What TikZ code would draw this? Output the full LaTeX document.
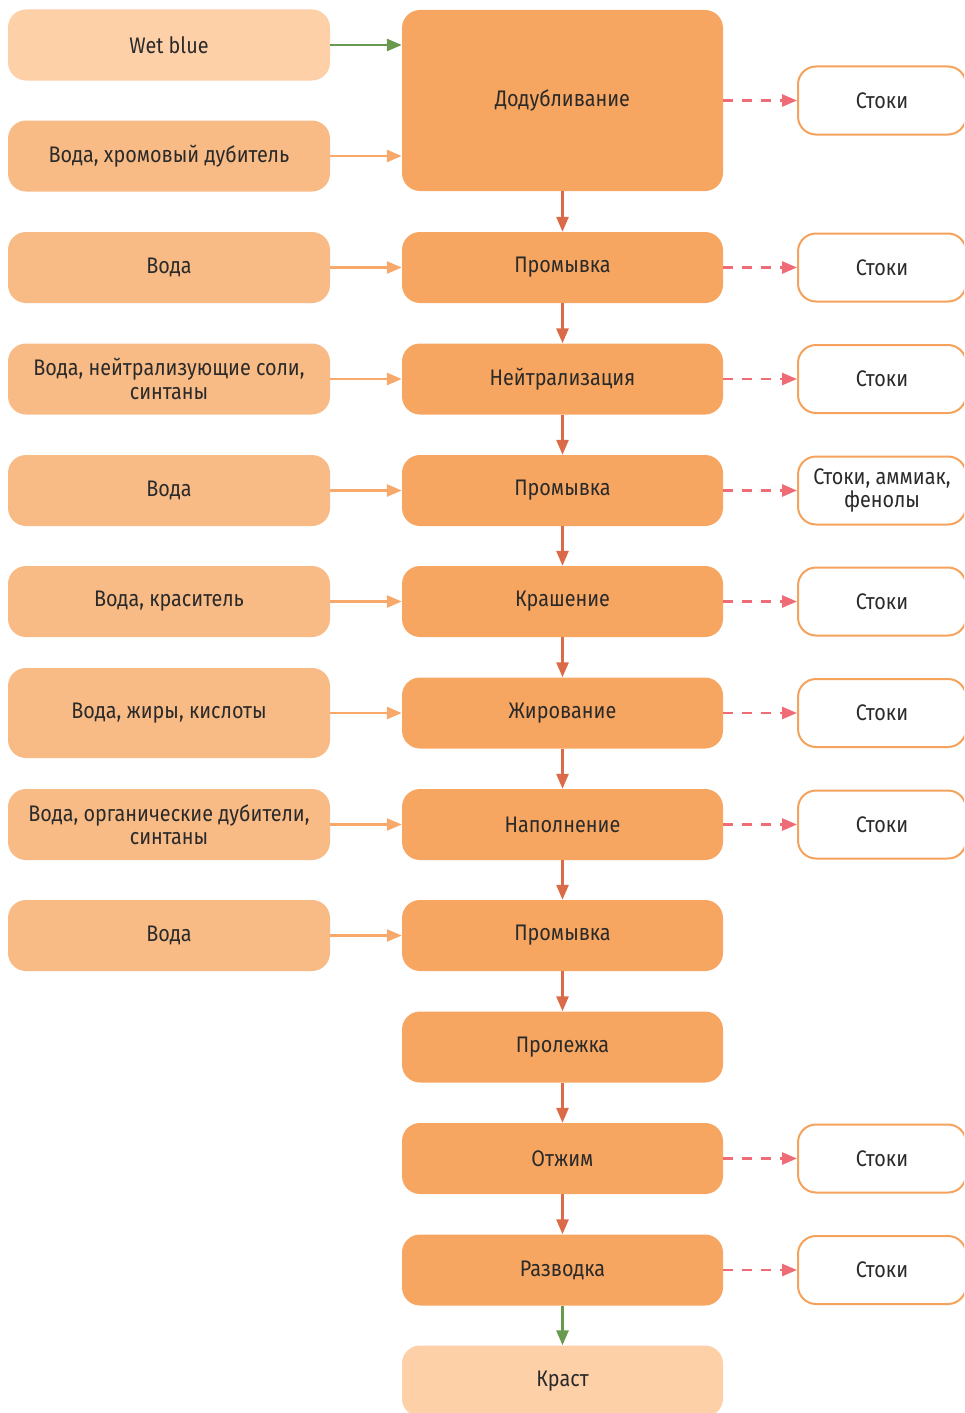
\documentclass[tikz,border=0pt]{standalone}
\usepackage{fontspec}
\setmainfont{Fira Sans}[FakeStretch=0.88]
\usetikzlibrary{arrows.meta}
\definecolor{mainfill}{HTML}{F6A661}
\definecolor{inputfill}{HTML}{F9BB86}
\definecolor{endfill}{HTML}{FDD0A8}
\definecolor{wasteedge}{HTML}{F5A25C}
\definecolor{flowline}{HTML}{DB6A48}
\definecolor{inputline}{HTML}{F6A96B}
\definecolor{wasteline}{HTML}{EF6B76}
\definecolor{greenline}{HTML}{67994F}
\definecolor{txt}{HTML}{2A2A2A}
\tikzset{
  x=1pt, y=-1pt,
  box/.style={rounded corners=18pt, minimum height=71pt, align=center, inner sep=2pt,
    text=txt, font=\fontsize{22.5}{23.5}\selectfont},
  mainbox/.style={box, fill=mainfill, minimum width=321pt},
  inbox/.style={box, fill=inputfill, minimum width=322pt},
  endbox/.style={box, fill=endfill},
  wastebox/.style={box, draw=wasteedge, line width=2pt, fill=white, minimum width=168pt, minimum height=68pt},
  flow/.style={draw=flowline, line width=2.7pt, -{Triangle[length=15pt,width=12pt]}},
  feed/.style={draw=inputline, line width=2.7pt, -{Triangle[length=15pt,width=12pt]}},
  green/.style={draw=greenline, line width=2.7pt, -{Triangle[length=15pt,width=12pt]}},
  waste/.style={draw=wasteline, line width=2.7pt, dash pattern=on 10pt off 9pt, -{Triangle[length=15pt,width=12pt]}},
}
\begin{document}
\begin{tikzpicture}
\useasboundingbox (0,0) rectangle (964,1413);
\begin{scope}
\clip (0,0) rectangle (964,1413);

% main process column
\node[mainbox, minimum height=181pt] (p1) at (562.5,100.5) {Додубливание};
\node[mainbox] (p2) at (562.5,267.5) {Промывка};
\node[mainbox] (p3) at (562.5,379) {Нейтрализация};
\node[mainbox] (p4) at (562.5,490.5) {Промывка};
\node[mainbox] (p5) at (562.5,601.5) {Крашение};
\node[mainbox] (p6) at (562.5,713) {Жирование};
\node[mainbox] (p7) at (562.5,824.5) {Наполнение};
\node[mainbox] (p8) at (562.5,935.5) {Промывка};
\node[mainbox] (p9) at (562.5,1047) {Пролежка};
\node[mainbox] (p10) at (562.5,1158.5) {Отжим};
\node[mainbox] (p11) at (562.5,1270) {Разводка};
\node[endbox, minimum width=321pt] (p12) at (562.5,1381) {Краст};

% inputs
\node[endbox, minimum width=322pt] (i0) at (169,45) {Wet blue};
\node[inbox] (i1) at (169,156) {Вода, хромовый дубитель};
\node[inbox] (i2) at (169,267.5) {Вода};
\node[inbox] (i3) at (169,379) {Вода, нейтрализующие соли,\\синтаны};
\node[inbox] (i4) at (169,490.5) {Вода};
\node[inbox] (i5) at (169,601.5) {Вода, краситель};
\node[inbox, minimum height=90pt] (i6) at (169,713) {Вода, жиры, кислоты};
\node[inbox] (i7) at (169,824.5) {Вода, органические дубители,\\синтаны};
\node[inbox] (i8) at (169,935.5) {Вода};

% waste outputs
\node[wastebox] (w1) at (882,100.5) {Стоки};
\node[wastebox] (w2) at (882,267.5) {Стоки};
\node[wastebox] (w3) at (882,379) {Стоки};
\node[wastebox] (w4) at (882,490.5) {Стоки, аммиак,\\фенолы};
\node[wastebox] (w5) at (882,601.5) {Стоки};
\node[wastebox] (w6) at (882,713) {Стоки};
\node[wastebox] (w7) at (882,824.5) {Стоки};
\node[wastebox] (w10) at (882,1158.5) {Стоки};
\node[wastebox] (w11) at (882,1270) {Стоки};

% connectors
\draw[green] (i0.east) -- (i0.east -| p1.west);
\draw[feed] (i1.east) -- (i1.east -| p1.west);
\foreach \i in {2,...,8} {
  \draw[feed] (i\i.east) -- (p\i.west);
}
\foreach \a/\b in {1/2,2/3,3/4,4/5,5/6,6/7,7/8,8/9,9/10,10/11} {
  \draw[flow] (p\a.south) -- (p\b.north);
}
\draw[green] (p11.south) -- (p12.north);
\foreach \i in {1,2,3,4,5,6,7,10,11} {
  \draw[waste] (p\i.east) -- (w\i.west);
}
\end{scope}
\end{tikzpicture}
\end{document}
